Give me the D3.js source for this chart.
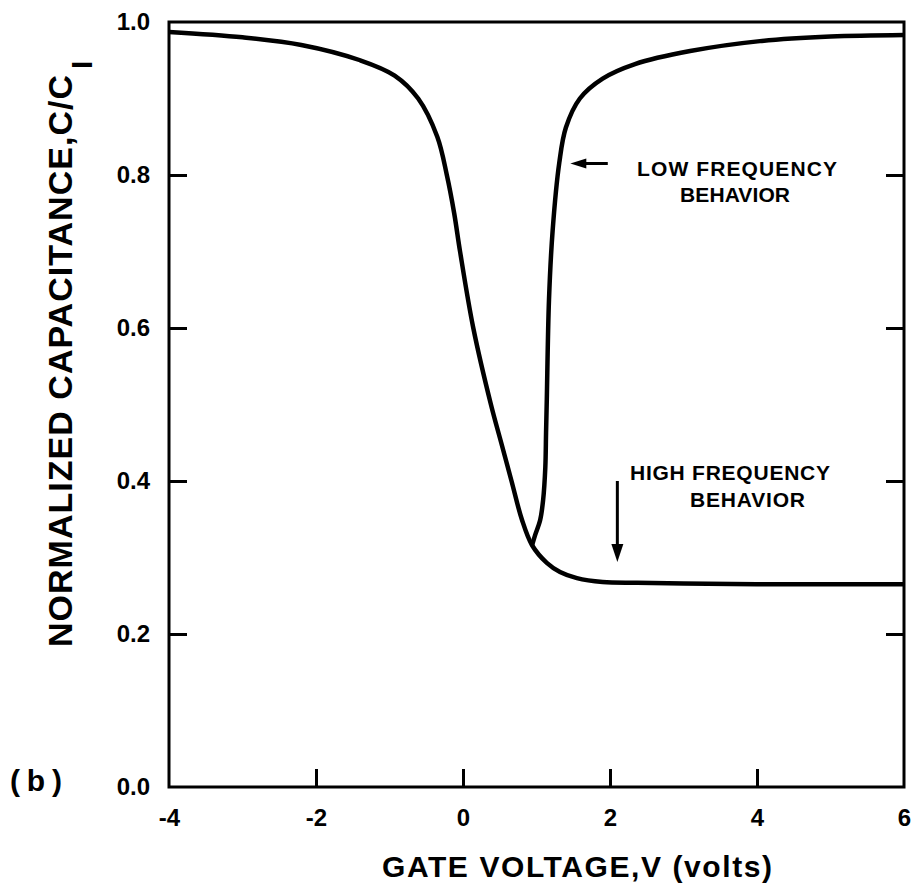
<!DOCTYPE html>
<html>
<head>
<meta charset="utf-8">
<script src="https://cdn.jsdelivr.net/npm/d3@7/dist/d3.min.js"></script>
<style>
  html, body { margin: 0; padding: 0; background: #fff; }
  svg { display: block; }
  text { font-family: "Liberation Sans", Arial, sans-serif; fill: #000; }
</style>
</head>
<body>
<svg id="chart" width="913" height="887"></svg>
<script>
// ---- Data ----
// Common / high-frequency curve: gate voltage (V) and normalized capacitance C/CI
const hfV = [-4, -3, -2.2, -1.4, -0.93, -0.61, -0.35, -0.22, -0.12, -0.04, 0.14, 0.38, 0.52, 0.66, 0.8, 0.94, 1.14, 1.32, 1.55, 1.9, 2.37, 3, 4, 5, 6];
const hfC = [0.987, 0.98, 0.97, 0.95, 0.93, 0.9, 0.85, 0.8, 0.75, 0.7, 0.6, 0.5, 0.45, 0.4, 0.35, 0.316, 0.293, 0.281, 0.273, 0.268, 0.267, 0.266, 0.265, 0.265, 0.265];
// Low-frequency branch, starting where it leaves the common curve
const lfV = [0.94, 0.98, 1.05, 1.09, 1.12, 1.13, 1.14, 1.17, 1.22, 1.31, 1.4, 1.59, 1.9, 2.34, 3.09, 4.04, 5.0, 6];
const lfC = [0.316, 0.329, 0.349, 0.375, 0.418, 0.463, 0.506, 0.637, 0.728, 0.816, 0.862, 0.9, 0.926, 0.945, 0.962, 0.975, 0.981, 0.983];

const xTickValues = [-4, -2, 0, 2, 4, 6];
const xTickLabels = ["-4", "-2", "0", "2", "4", "6"];
const yTickValues = [0, 0.2, 0.4, 0.6, 0.8, 1.0];
const yTickLabels = ["0.0", "0.2", "0.4", "0.6", "0.8", "1.0"];

const xTitle = "GATE VOLTAGE,V (volts)";
const yTitle = "NORMALIZED CAPACITANCE,C/C";
const yTitleSub = "I";
const panelLabel = "(b)";
const lowLabel = ["LOW FREQUENCY", "BEHAVIOR"];
const highLabel = ["HIGH FREQUENCY", "BEHAVIOR"];

// ---- Layout ----
const svg = d3.select("#chart");
const x = d3.scaleLinear().domain([-4, 6]).range([169, 904]);
const y = d3.scaleLinear().domain([0, 1]).range([787, 22]);
const tick = 18;

// frame
svg.append("rect")
  .attr("x", x(-4)).attr("y", y(1))
  .attr("width", x(6) - x(-4)).attr("height", y(0) - y(1))
  .attr("fill", "none").attr("stroke", "#000").attr("stroke-width", 3);

// left axis (inward ticks, labels)
const gL = svg.append("g").attr("transform", `translate(${x(-4)},0)`)
  .call(d3.axisLeft(y).tickValues(yTickValues)
    .tickFormat((d, i) => yTickLabels[i]).tickSize(-tick).tickSizeOuter(0).tickPadding(19));
gL.select(".domain").remove();
gL.selectAll(".tick line").attr("stroke", "#000").attr("stroke-width", 3)
  .filter(d => d === 0 || d === 1).remove();
gL.selectAll(".tick text").attr("font-size", 24).attr("font-weight", "bold")
  .attr("font-family", "Liberation Sans, Arial, sans-serif");

// right axis (inward ticks, no labels)
const gR = svg.append("g").attr("transform", `translate(${x(6)},0)`)
  .call(d3.axisRight(y).tickValues(yTickValues.filter(d => d > 0 && d < 1))
    .tickFormat("").tickSize(-tick).tickSizeOuter(0));
gR.select(".domain").remove();
gR.selectAll(".tick line").attr("stroke", "#000").attr("stroke-width", 3);

// bottom axis
const gB = svg.append("g").attr("transform", `translate(0,${y(0)})`)
  .call(d3.axisBottom(x).tickValues(xTickValues)
    .tickFormat((d, i) => xTickLabels[i]).tickSize(-tick).tickSizeOuter(0));
gB.select(".domain").remove();
gB.selectAll(".tick line").attr("stroke", "#000").attr("stroke-width", 3)
  .filter(d => d === -4 || d === 6).remove();
gB.selectAll(".tick text").attr("y", 39).attr("dy", 0)
  .attr("font-size", 24).attr("font-weight", "bold")
  .attr("font-family", "Liberation Sans, Arial, sans-serif");

// curves
const line = d3.line().x(d => x(d[0])).y(d => y(d[1])).curve(d3.curveCatmullRom.alpha(0.5));
const hf = hfV.map((v, i) => [v, hfC[i]]);
const lf = lfV.map((v, i) => [v, lfC[i]]);
svg.append("path").attr("d", line(hf)).attr("fill", "none")
  .attr("stroke", "#000").attr("stroke-width", 4.5).attr("stroke-linejoin", "round");
svg.append("path").attr("d", line(lf)).attr("fill", "none")
  .attr("stroke", "#000").attr("stroke-width", 4.5).attr("stroke-linejoin", "round");

// annotations
const annot = svg.append("g").attr("font-weight", "bold").attr("font-size", 21);
annot.append("text").attr("x", 637).attr("y", 176).attr("textLength", 200).attr("lengthAdjust", "spacing").text(lowLabel[0]);
annot.append("text").attr("x", 680).attr("y", 202).attr("textLength", 110).attr("lengthAdjust", "spacing").text(lowLabel[1]);
annot.append("text").attr("x", 630).attr("y", 480).attr("textLength", 200).attr("lengthAdjust", "spacing").text(highLabel[0]);
annot.append("text").attr("x", 690).attr("y", 507).attr("textLength", 115).attr("lengthAdjust", "spacing").text(highLabel[1]);

// low-frequency arrow (pointing left, toward the curve)
const lfArrowC = 0.815;
const la = { x1: x(1.97), x2: x(1.46), yy: y(lfArrowC) };
svg.append("line").attr("x1", la.x1).attr("x2", la.x2 + 12).attr("y1", la.yy).attr("y2", la.yy)
  .attr("stroke", "#000").attr("stroke-width", 3);
svg.append("path").attr("d", `M${la.x2},${la.yy} L${la.x2 + 16},${la.yy - 5} L${la.x2 + 16},${la.yy + 5} Z`).attr("fill", "#000");

// high-frequency arrow (pointing down)
const hx = x(2.1), hy1 = y(0.40), hy2 = y(0.294);
svg.append("line").attr("x1", hx).attr("x2", hx).attr("y1", hy1).attr("y2", hy2 - 12)
  .attr("stroke", "#000").attr("stroke-width", 3);
svg.append("path").attr("d", `M${hx},${hy2} L${hx - 6},${hy2 - 18} L${hx + 6},${hy2 - 18} Z`).attr("fill", "#000");

// axis titles
svg.append("text").attr("x", 382).attr("y", 877).attr("font-size", 30).attr("font-weight", "bold")
  .attr("textLength", 390).attr("lengthAdjust", "spacing").text(xTitle);

const yt = svg.append("g").attr("transform", "translate(72,647) rotate(-90)");
yt.append("text").attr("x", 0).attr("y", 0).attr("font-size", 34).attr("font-weight", "bold")
  .attr("textLength", 572).attr("lengthAdjust", "spacing").text(yTitle);
yt.append("text").attr("x", 578).attr("y", 20).attr("font-size", 30).attr("font-weight", "bold").text(yTitleSub);

// panel label
svg.append("text").attr("x", 10).attr("y", 791).attr("font-size", 30).attr("font-weight", "bold")
  .attr("textLength", 52).attr("lengthAdjust", "spacing").text(panelLabel);
</script>
</body>
</html>
